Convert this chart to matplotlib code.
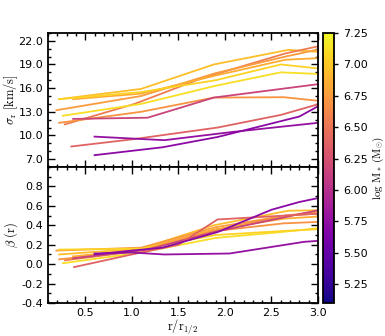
import matplotlib
matplotlib.use("Agg")
import matplotlib.pyplot as plt
from matplotlib.ticker import MultipleLocator, FormatStrFormatter
from matplotlib.colors import Normalize
from matplotlib import cm

# stellar mass of each galaxy (log M*)
log_mstar = [6.95, 6.55, 6.75, 6.85, 7.12, 7.05, 6.70, 6.15, 6.38, 5.78, 5.72]

# sigma_r profiles
r_sig = [
    [0.22, 1.10, 1.88, 2.68, 3.00],
    [0.28, 1.03, 1.74, 2.65, 3.00],
    [0.19, 1.10, 1.90, 2.65, 3.00],
    [0.37, 1.10, 1.90, 2.65, 3.00],
    [0.26, 1.10, 1.90, 2.60, 3.00],
    [0.22, 1.10, 1.90, 2.60, 3.00],
    [0.22, 1.10, 1.88, 2.63, 3.00],
    [0.37, 1.17, 1.88, 3.00],
    [0.35, 1.00, 1.92, 2.60, 3.00],
    [0.60, 1.35, 2.05, 2.60, 3.00],
    [0.60, 1.33, 1.92, 2.80, 3.00],
]
sigma_r = [
    [14.6, 15.9, 19.0, 20.85, 20.6],
    [11.4, 14.0, 17.2, 20.4, 21.3],
    [13.2, 15.0, 17.9, 20.0, 20.9],
    [14.6, 15.3, 17.6, 19.6, 19.8],
    [12.5, 14.0, 16.3, 18.0, 17.8],
    [14.6, 15.5, 17.0, 19.0, 18.5],
    [11.6, 13.0, 14.8, 14.85, 14.4],
    [12.1, 12.25, 14.8, 16.5],
    [8.6, 9.5, 11.0, 12.6, 13.95],
    [9.85, 9.4, 10.4, 11.1, 11.6],
    [7.5, 8.5, 9.8, 12.4, 13.7],
]

# anisotropy profiles
r_beta = [
    [0.22, 1.10, 1.88, 2.68, 3.00],
    [0.28, 1.03, 1.74, 2.65, 3.00],
    [0.19, 1.10, 1.90, 2.65, 3.00],
    [0.37, 1.10, 1.90, 2.65, 3.00],
    [0.26, 1.10, 1.90, 2.60, 3.00],
    [0.22, 1.10, 1.90, 2.60, 3.00],
    [0.22, 1.10, 1.88, 2.63, 3.00],
    [0.37, 1.17, 1.88, 3.00],
    [0.38, 1.00, 1.50, 1.92, 3.00],
    [0.60, 1.00, 1.35, 2.05, 2.85, 3.00],
    [0.60, 1.00, 1.33, 1.92, 2.50, 2.80, 3.00],
]
beta = [
    [0.10, 0.16, 0.40, 0.55, 0.555],
    [0.04, 0.13, 0.32, 0.50, 0.52],
    [0.14, 0.17, 0.38, 0.50, 0.54],
    [0.08, 0.15, 0.36, 0.47, 0.49],
    [0.01, 0.12, 0.27, 0.33, 0.37],
    [0.15, 0.16, 0.30, 0.34, 0.36],
    [0.05, 0.14, 0.34, 0.42, 0.435],
    [0.06, 0.15, 0.33, 0.555],
    [-0.03, 0.10, 0.20, 0.46, 0.52],
    [0.11, 0.12, 0.10, 0.11, 0.23, 0.24],
    [0.10, 0.14, 0.17, 0.33, 0.56, 0.64, 0.68],
]

cbar_ticks = [5.25, 5.50, 5.75, 6.00, 6.25, 6.50, 6.75, 7.00, 7.25]

plt.rcParams['mathtext.fontset'] = 'cm'
plt.rcParams['axes.unicode_minus'] = False

fig = plt.figure(figsize=(3.85, 3.36), dpi=100)
ax1 = fig.add_axes([0.1247, 0.503, 0.7013, 0.399])
ax2 = fig.add_axes([0.1247, 0.098, 0.7013, 0.405])
cax = fig.add_axes([0.839, 0.098, 0.0286, 0.804])

norm = Normalize(vmin=5.1, vmax=7.25)
cmap = plt.get_cmap('plasma')

for m, x, s in zip(log_mstar, r_sig, sigma_r):
    ax1.plot(x, s, color=cmap(norm(m)), lw=1.3)
for m, x, b in zip(log_mstar, r_beta, beta):
    ax2.plot(x, b, color=cmap(norm(m)), lw=1.3)

for ax in (ax1, ax2):
    ax.set_xlim(0.1, 3.0)
    ax.xaxis.set_major_locator(MultipleLocator(0.5))
    ax.xaxis.set_minor_locator(MultipleLocator(0.1))
    ax.tick_params(which='both', direction='in', top=True, right=True, labelsize=8, width=1)
    ax.tick_params(which='major', length=5)
    ax.tick_params(which='minor', length=2.5)
    for sp in ax.spines.values():
        sp.set_linewidth(1.3)

ax1.set_ylim(6.0, 23.0)
ax1.yaxis.set_minor_locator(MultipleLocator(1.0))
ax1.yaxis.set_major_formatter(FormatStrFormatter('%.1f'))
ax1.set_yticks([7, 10, 13, 16, 19, 22])
ax1.tick_params(labelbottom=False)
ax1.set_ylabel(r'$\sigma_{\rm r}\ [\rm km/s]$', fontsize=9)
ax1.yaxis.set_label_coords(-0.102, 0.5)

ax2.set_ylim(-0.4, 1.0)
ax2.set_yticks([-0.4, -0.2, 0.0, 0.2, 0.4, 0.6, 0.8])
ax2.yaxis.set_minor_locator(MultipleLocator(0.1))
ax2.yaxis.set_major_formatter(FormatStrFormatter('%.1f'))
ax2.xaxis.set_major_formatter(FormatStrFormatter('%.1f'))
ax2.set_ylabel(r'$\beta\ (\rm r)$', fontsize=9)
ax2.yaxis.set_label_coords(-0.102, 0.5)
ax2.set_xlabel(r'$\rm r/r_{1/2}$', fontsize=9, labelpad=0)

sm = cm.ScalarMappable(norm=norm, cmap=cmap)
cb = fig.colorbar(sm, cax=cax, ticks=cbar_ticks)
cb.ax.yaxis.set_major_formatter(FormatStrFormatter('%.2f'))
cb.ax.tick_params(labelsize=8, length=3, width=1)
cb.outline.set_linewidth(1.3)
cb.set_label(r'$\rm log\ M_\ast\,(M_{\odot})$', fontsize=8, labelpad=2)

fig.savefig('out.png', dpi=100)
